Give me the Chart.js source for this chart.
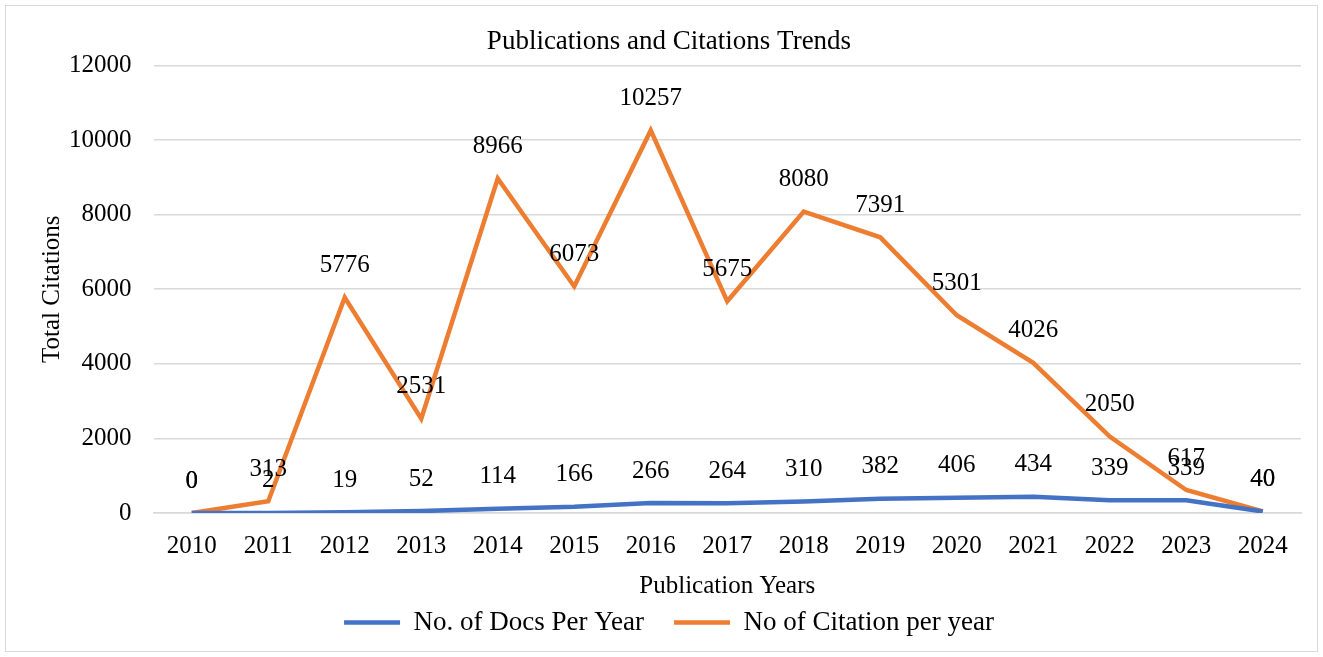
<!DOCTYPE html>
<html>
<head>
<meta charset="utf-8">
<script src="https://cdn.jsdelivr.net/npm/chart.js@4.4.1/dist/chart.umd.min.js"></script>
<style>
  html, body { margin: 0; padding: 0; background: #fff; }
  #wrap { position: relative; width: 1323px; height: 657px; }
  #frame { position: absolute; left: 5px; top: 5px; width: 1311px; height: 645px; border: 1px solid #d9d9d9; pointer-events: none; }
</style>
</head>
<body>
<div id="wrap">
  <canvas id="chart" width="1323" height="657"></canvas>
  <div id="frame"></div>
</div>
<script>
const years = ['2010', '2011', '2012', '2013', '2014', '2015', '2016', '2017', '2018', '2019', '2020', '2021', '2022', '2023', '2024']
const docsPerYear = [0, 2, 19, 52, 114, 166, 266, 264, 310, 382, 406, 434, 339, 339, 40]
const citationsPerYear = [0, 313, 5776, 2531, 8966, 6073, 10257, 5675, 8080, 7391, 5301, 4026, 2050, 617, 40]
const yTicks = [0, 2000, 4000, 6000, 8000, 10000, 12000]

const serif = "'Times New Roman', 'Liberation Serif', serif"

// value labels centred just above every point
const valueLabels = {
  id: 'valueLabels',
  afterDatasetsDraw(chart) {
    const ctx = chart.ctx
    ctx.save()
    ctx.font = `25px ${serif}`
    ctx.fillStyle = '#000'
    ctx.textAlign = 'center'
    ctx.textBaseline = 'middle'
    chart.data.datasets.forEach((ds, i) => {
      chart.getDatasetMeta(i).data.forEach((pt, j) => {
        ctx.fillText(String(ds.data[j]), pt.x, pt.y - 32)
      })
    })
    ctx.restore()
  }
}

new Chart(document.getElementById('chart'), {
  type: 'line',
  data: {
    labels: years,
    datasets: [
      {
        label: 'No. of Docs Per Year',
        data: docsPerYear,
        borderColor: '#4472c4',
        backgroundColor: '#4472c4',
        borderWidth: 4.5,
        pointRadius: 0,
        tension: 0
      },
      {
        label: 'No of Citation per year',
        data: citationsPerYear,
        borderColor: '#ed7d31',
        backgroundColor: '#ed7d31',
        borderWidth: 4.5,
        pointRadius: 0,
        tension: 0
      }
    ]
  },
  options: {
    responsive: false,
    animation: false,
    layout: { padding: { top: 10, right: 22, bottom: 11, left: 37 } },
    plugins: {
      title: {
        display: true,
        text: 'Publications and Citations Trends',
        color: '#000',
        font: { family: serif, size: 27, weight: 'normal' },
        padding: { top: 16, bottom: 7 }
      },
      legend: {
        position: 'bottom',
        labels: {
          usePointStyle: true,
          pointStyle: 'line',
          pointStyleWidth: 56,
          color: '#000',
          font: { family: serif, size: 27 },
          padding: 30,
          boxHeight: 27
        }
      },
      tooltip: { enabled: false }
    },
    scales: {
      x: {
        offset: true,
        grid: { display: false },
        border: { color: '#d9d9d9', width: 1.5 },
        ticks: { color: '#000', font: { family: serif, size: 25 }, padding: 10 },
        title: {
          display: true,
          text: 'Publication Years',
          color: '#000',
          font: { family: serif, size: 25 },
          padding: { top: 0, bottom: -22 }
        }
      },
      y: {
        min: 0,
        max: 12000,
        afterBuildTicks(axis) { axis.ticks = yTicks.map(v => ({ value: v })) },
        grid: { color: '#d9d9d9', lineWidth: 1.5, drawTicks: false },
        border: { display: false },
        ticks: {
          color: '#000',
          font: { family: serif, size: 25 },
          padding: 22,
          callback: v => String(v)
        },
        title: {
          display: true,
          text: 'Total Citations',
          color: '#000',
          font: { family: serif, size: 25 },
          padding: { top: 0, bottom: -20 }
        }
      }
    }
  },
  plugins: [valueLabels]
})
</script>
</body>
</html>
